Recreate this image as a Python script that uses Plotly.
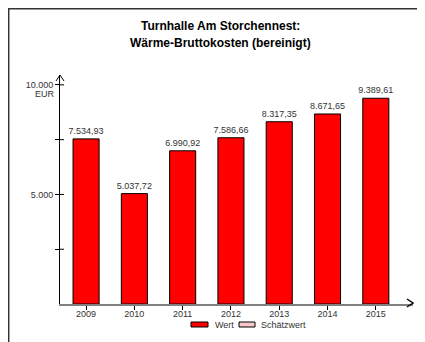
import plotly.graph_objects as go

years = ["2009", "2010", "2011", "2012", "2013", "2014", "2015"]
wert = [7534.93, 5037.72, 6990.92, 7586.66, 8317.35, 8671.65, 9389.61]
ytick_vals = [2500, 5000, 7500, 10000]
ytick_text = ["", "5.000", "", "10.000"]
title_lines = ["Turnhalle Am Storchennest:", "Wärme-Bruttokosten (bereinigt)"]
legend_names = ["Wert", "Schätzwert"]

OFF = 8  # page body margin
W, H = 417, 334
L, R, T, B = 52, 12, 67, 38
PW, PH = W - L - R, H - T - B

def px(x):
    return (x - OFF - L) / PW

def py(y):
    return (H - B - (y - OFF)) / PH

FONT = "Liberation Sans, Arial, sans-serif"
TXT = "#333333"
FS = 9

fig = go.Figure()
fig.add_trace(go.Bar(
    x=years, y=wert, name=legend_names[0], width=0.54,
    marker=dict(color="#ff0000", line=dict(color="black", width=1)),
    texttemplate="%{y:,.2f}", textposition="outside", constraintext="none",
    textfont=dict(size=FS, color=TXT, family=FONT), cliponaxis=False,
    showlegend=False,
))

shapes = []
# frame (top + left)
shapes.append(dict(type="path", xref="paper", yref="paper",
                   path=f"M {px(8.7)},{py(345)} L {px(8.7)},{py(8.7)} L {px(430)},{py(8.7)}",
                   line=dict(color="#333333", width=1.5)))
# y-axis arrow
shapes.append(dict(type="path", xref="paper", yref="paper",
                   path=f"M {px(56)},{py(81)} L {px(60)},{py(75)} L {px(64)},{py(81)}",
                   line=dict(color="black", width=1)))
# x-axis arrow
shapes.append(dict(type="path", xref="paper", yref="paper",
                   path=f"M {px(407)},{py(299)} L {px(413)},{py(303)} L {px(407)},{py(307)}",
                   line=dict(color="black", width=1.5)))
# inner part of y ticks (crossing ticks)
for v in ytick_vals:
    shapes.append(dict(type="line", xref="paper", yref="y",
                       x0=0, x1=4 / PW, y0=v, y1=v, line=dict(color="black", width=1)))
# legend symbols
shapes.append(dict(type="rect", xref="paper", yref="paper",
                   x0=px(191), x1=px(208), y0=py(327), y1=py(322),
                   fillcolor="#ff0000", line=dict(color="black", width=1)))
shapes.append(dict(type="rect", xref="paper", yref="paper",
                   x0=px(239), x1=px(255), y0=py(327), y1=py(322),
                   fillcolor="#f6c8c8", line=dict(color="black", width=1)))

def ann(text, x, y, size=FS, color=TXT, xanchor="center"):
    return dict(text=text, xref="paper", yref="paper", x=px(x), y=py(y),
                xanchor=xanchor, yanchor="middle", showarrow=False,
                font=dict(size=size, family=FONT, color=color))

annotations = [
    ann(f"<b>{title_lines[0]}</b>", 220, 26, size=12, color="black"),
    ann(f"<b>{title_lines[1]}</b>", 220, 43, size=12, color="black"),
    ann("EUR", 57, 94, xanchor="right"),
    ann(legend_names[0], 213, 325, xanchor="left"),
    ann(legend_names[1], 259, 325, xanchor="left"),
]

fig.update_layout(
    width=W, height=H, margin=dict(l=L, r=R, t=T, b=B),
    paper_bgcolor="white", plot_bgcolor="white",
    separators=",.",
    showlegend=False,
    shapes=shapes, annotations=annotations,
    font=dict(family=FONT, size=FS, color=TXT),
    xaxis=dict(type="category", range=[-0.54, 6.77], showline=True, linecolor="#808080",
               linewidth=2, ticks="outside", ticklen=4, tickcolor="black", showgrid=False,
               tickfont=dict(size=FS, color=TXT), fixedrange=True, automargin=False,
               ticklabelstandoff=-4),
    yaxis=dict(range=[0, 10450], showline=True, linecolor="black", linewidth=1,
               tickvals=ytick_vals, ticktext=ytick_text, ticks="outside", ticklen=4,
               tickcolor="black", showgrid=False, zeroline=False,
               tickfont=dict(size=FS, color=TXT), fixedrange=True, automargin=False),
)

fig.write_html("out.html")
